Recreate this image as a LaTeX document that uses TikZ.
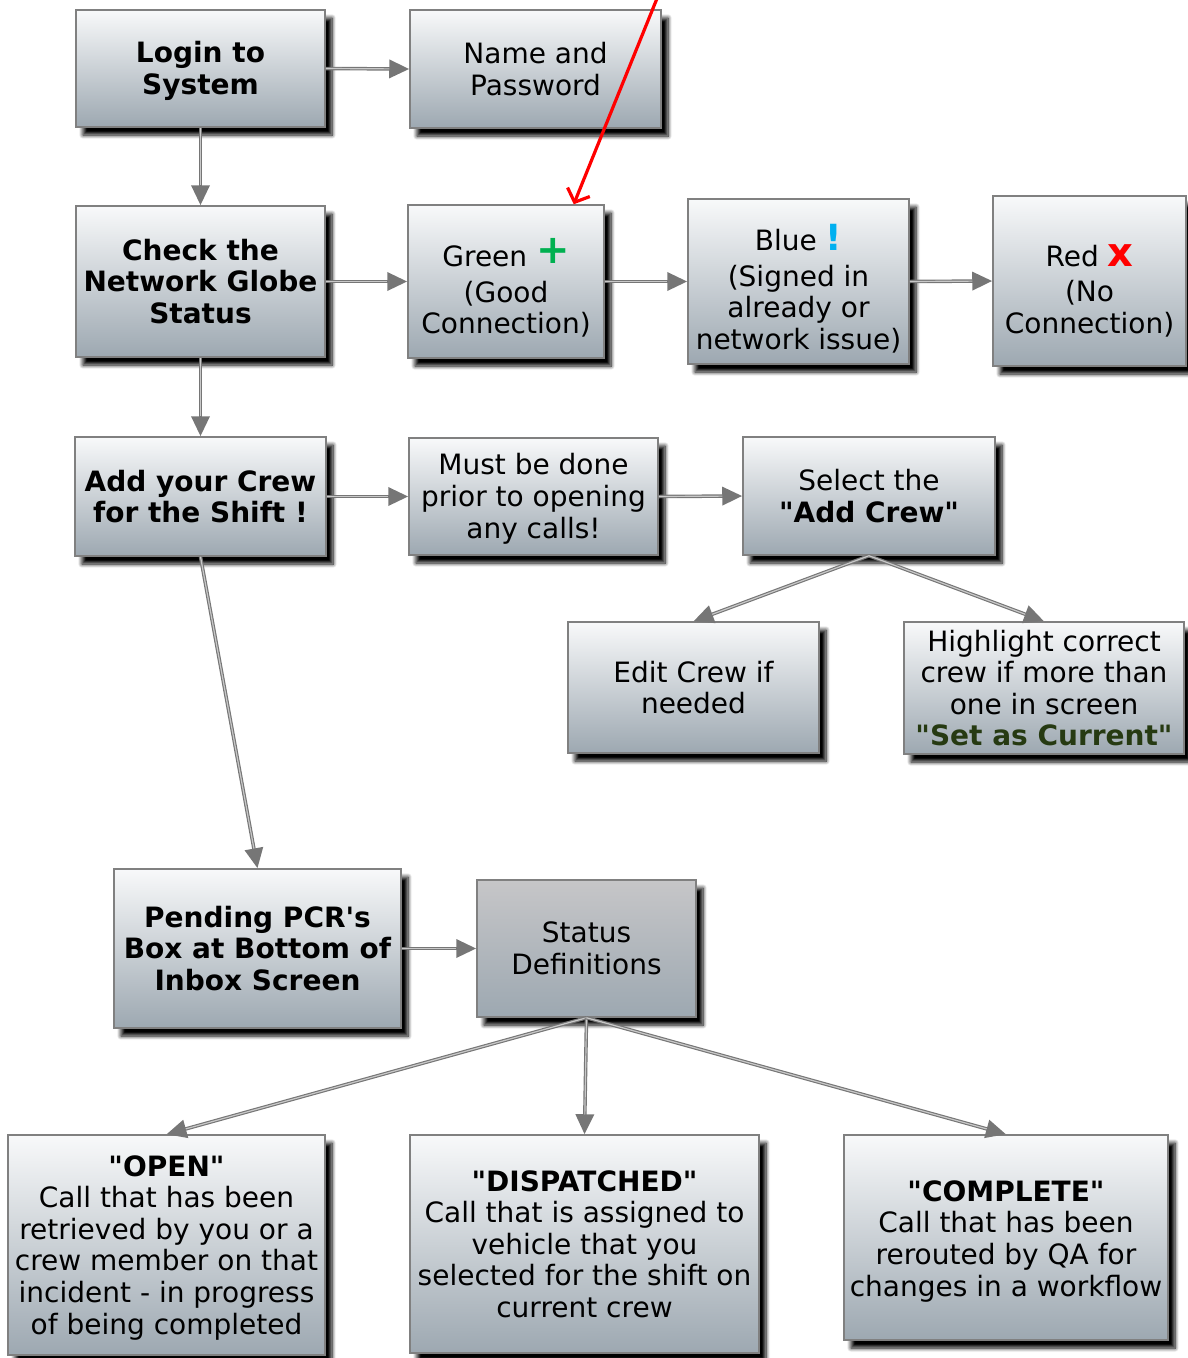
\documentclass[tikz,border=0pt]{standalone}
\usepackage{fontspec}
\setmainfont{DejaVu Sans}[Ligatures=TeXOff]
\usetikzlibrary{calc,arrows.meta,shadows.blur}

\definecolor{boxTop}{RGB}{248,249,250}
\definecolor{boxBottom}{RGB}{157,168,177}
\definecolor{statusTop}{RGB}{198,198,200}
\definecolor{boxBorder}{RGB}{128,128,128}
\definecolor{linkGray}{RGB}{118,118,118}
\definecolor{linkLight}{RGB}{200,200,200}
\definecolor{plusGreen}{RGB}{0,176,80}
\definecolor{bangBlue}{RGB}{0,176,240}
\definecolor{crossRed}{RGB}{255,0,0}
\definecolor{currentGreen}{RGB}{38,58,18}

\newcommand{\markStrut}{\rule{0pt}{41pt}}
\newcommand{\plusMark}{\raisebox{3pt}{\fontsize{40}{40}\selectfont\bfseries\color{plusGreen}+}}
\newcommand{\bangMark}{{\fontsize{36}{36}\selectfont\bfseries\color{bangBlue}!}}
\newcommand{\crossMark}{{\fontsize{40}{40}\selectfont\bfseries\color{crossRed}x}}

\begin{document}
\begin{tikzpicture}[x=1pt, y=-1pt]

% styles
\tikzstyle{flowBox}=[rectangle, draw=boxBorder, line width=1.5pt, top color=boxTop, bottom color=boxBottom, align=center, inner sep=0pt, text=black, font=\fontsize{28}{31.6}\selectfont, blur shadow={shadow xshift=7pt, shadow yshift=-8pt, shadow blur radius=4pt, shadow blur steps=8, shadow opacity=100}]
\tikzstyle{flowBoxBold}=[flowBox, font=\fontsize{28}{31.6}\selectfont\bfseries]
\tikzstyle{statusBox}=[flowBox, top color=statusTop]

\tikzstyle{link}=[draw=linkGray, line width=3.5pt, -{Triangle[length=20pt, width=18pt]}, postaction={draw=linkLight, line width=1.2pt, shorten >=20pt, -}]
\tikzstyle{pointer}=[draw=crossRed, line width=3.2pt, -{Straight Barb[length=11pt, width=24pt, line width=3.2pt]}]

\useasboundingbox (0,0) rectangle (1187,1358);

% login row
\node[flowBoxBold, minimum width=249pt, minimum height=117pt] (login) at (200.5,68.5) {\rule{0pt}{26pt}Login to\\System};
\node[flowBox, minimum width=251pt, minimum height=118pt] (name) at (535.5,69) {Name and\\Password};

% network globe row
\node[flowBoxBold, minimum width=249pt, minimum height=151pt] (globe) at (200.5,281.5) {Check the\\Network Globe\\Status};
\node[flowBox, minimum width=196pt, minimum height=153pt] (green) at (506,281.5) {\markStrut Green \plusMark\\[4pt](Good\\Connection)};
\node[flowBox, minimum width=221pt, minimum height=165pt] (blue) at (798.5,281.5) {\markStrut Blue \bangMark\\[4pt](Signed in\\already or\\network issue)};
\node[flowBox, minimum width=193pt, minimum height=170pt] (red) at (1089.5,281) {\markStrut Red \crossMark\\[4pt](No\\Connection)};

% crew row
\node[flowBoxBold, minimum width=251pt, minimum height=119pt] (addCrew) at (200.5,496.5) {Add your Crew\\for the Shift !};
\node[flowBox, minimum width=249pt, minimum height=117pt] (must) at (533.5,496.5) {\rule{0pt}{26pt}Must be done\\prior to opening\\any calls!};
\node[flowBox, minimum width=252pt, minimum height=118pt] (select) at (869,496) {Select the\\\textbf{"Add Crew"}};
\node[flowBox, minimum width=251pt, minimum height=131pt] (edit) at (693.5,687.5) {Edit Crew if\\needed};
\node[flowBox, minimum width=280pt, minimum height=132pt] (highlight) at (1044,688) {Highlight correct\\crew if more than\\one in screen\\{\color{currentGreen}\textbf{"Set as Current"}}};

% pending row
\node[flowBoxBold, minimum width=287pt, minimum height=159pt] (pending) at (257.5,948.5) {Pending PCR's\\Box at Bottom of\\Inbox Screen};
\node[statusBox, minimum width=219pt, minimum height=137pt] (status) at (586.5,948.5) {Status\\Definitions};

% status definitions
\node[flowBox, minimum width=317pt, minimum height=220pt] (open) at (166.5,1245) {\rule{0pt}{26pt}\textbf{"OPEN"}\\Call that has been\\retrieved by you or a\\crew member on that\\incident - in progress\\of being completed};
\node[flowBox, minimum width=349pt, minimum height=218pt] (dispatched) at (584.5,1244) {\textbf{"DISPATCHED"}\\Call that is assigned to\\vehicle that you\\selected for the shift on\\current crew};
\node[flowBox, minimum width=324pt, minimum height=205pt] (complete) at (1006,1237.5) {\rule{0pt}{28pt}\textbf{"COMPLETE"}\\Call that has been\\rerouted by QA for\\changes in a workflow};

% connectors
\draw[link] (login.east) -- (name.west);
\draw[link] (login.south) -- (globe.north);
\draw[link] (globe.east) -- (green.west);
\draw[link] (green.east) -- (blue.west);
\draw[link] (blue.east) -- (red.west);
\draw[link] (globe.south) -- (addCrew.north);
\draw[link] (addCrew.east) -- (must.west);
\draw[link] (must.east) -- (select.west);
\draw[link] (select.south) -- (edit.north);
\draw[link] (select.south) -- (highlight.north);
\draw[link] (addCrew.south) -- (pending.north);
\draw[link] (pending.east) -- (status.west);
\draw[link] (status.south) -- (open.north);
\draw[link] (status.south) -- (dispatched.north);
\draw[link] (status.south) -- (complete.north);

\coordinate (pointerStart) at (658,-4);
\draw[pointer] (pointerStart) -- ($(green.north east)+(-31,0)$);

\end{tikzpicture}
\end{document}
